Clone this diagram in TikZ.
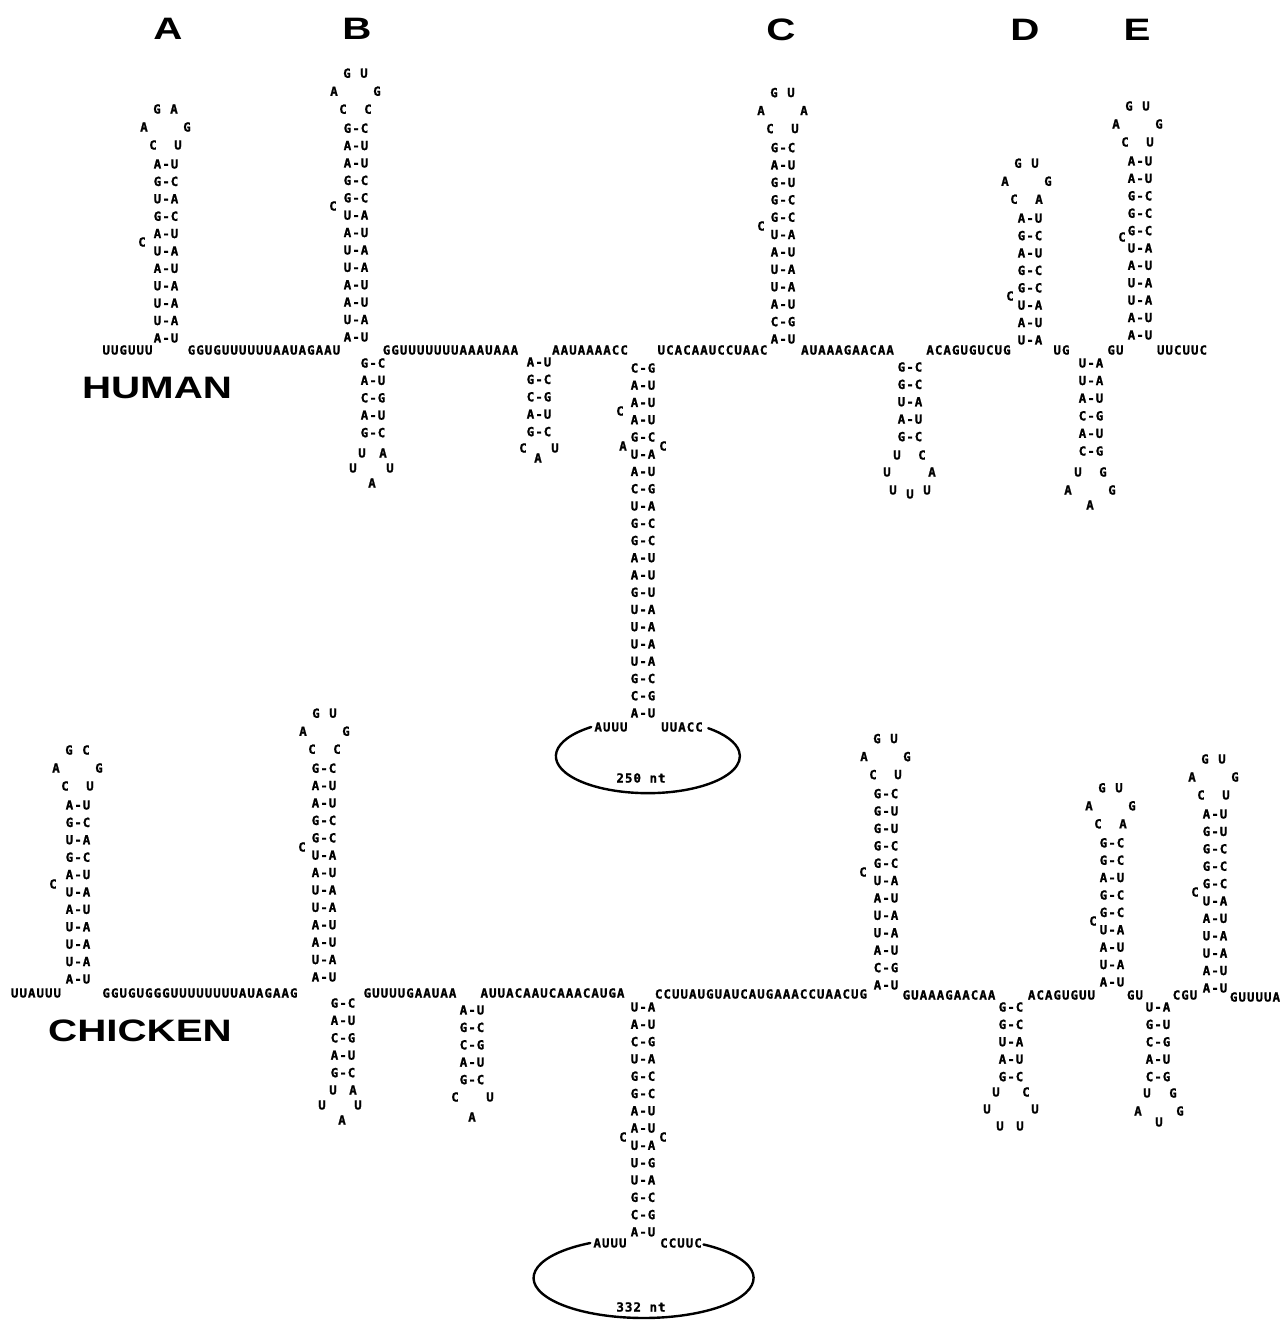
\documentclass[tikz,border=0pt]{standalone}
\usepackage{fontspec}
\newfontfamily\rnafont[LetterSpace=8,FakeBold=1.2]{DejaVu Sans Mono}
\newfontfamily\labfont[FakeStretch=1.3]{Liberation Sans}
\tikzset{
  nt/.style={font=\rnafont\bfseries\fontsize{12.5}{13}\selectfont, inner sep=0pt},
  big/.style={font=\labfont\bfseries\fontsize{31}{34}\selectfont, inner sep=0pt},
  tailloop/.style={line width=2.4pt, line cap=round},
}
% column of base pairs: name, x, y of top pair, row step, pairs from top to bottom
\newcommand\rnacol[5]{%
  \foreach \p [count=\i from 0] in {#5}{\node[nt] (#1-\i) at (#2,{#3+\i*#4}) {\p};}}
% six-nucleotide hairpin loop above a stem: name, x, y of top pair,
% then left row1, row2, row3, right row3, row2, row1
\newcommand\hairpin[9]{%
  \node[nt] (#1-1) at ({#2-13},{#3-19}) {#4};
  \node[nt] (#1-2) at ({#2-22},{#3-37}) {#5};
  \node[nt] (#1-3) at ({#2-9},{#3-55}) {#6};
  \node[nt] (#1-4) at ({#2+8},{#3-55}) {#7};
  \node[nt] (#1-5) at ({#2+21},{#3-37}) {#8};
  \node[nt] (#1-6) at ({#2+12},{#3-19}) {#9};}
\begin{document}
\begin{tikzpicture}[x=1pt,y=-1pt]
\useasboundingbox (0,0) rectangle (1284,1320);
\fill[white] (0,0) rectangle (1284,1320);

% domain letters
\node[big] (labA) at (168,29) {A};
\node[big] (labB) at (357,29) {B};
\node[big] (labC) at (781,30) {C};
\node[big] (labD) at (1025,30) {D};
\node[big] (labE) at (1137,30) {E};
\node[big] (human) at (157,388) {HUMAN};
\node[big] (chicken) at (140,1031) {CHICKEN};

% ================= human =================
% single-stranded backbone
\node[nt] (h1) at (127.5,350) {UUGUUU};
\node[nt] (h2) at (264,350) {GGUGUUUUUUAAUAGAAU};
\node[nt] (h3) at (450.5,350) {GGUUUUUUUAAAUAAA};
\node[nt] (h4) at (590,350) {AAUAAAACC};
\node[nt] (h5) at (712.5,350) {UCACAAUCCUAAC};
\node[nt] (h6) at (847.5,350) {AUAAAGAACAA};
\node[nt] (h7) at (968.5,350) {ACAGUGUCUG};
\node[nt] (h8) at (1061.5,350) {UG};
\node[nt] (h9) at (1115.5,350) {GU};
\node[nt] (h10) at (1182,350) {UUCUUC};

% stem A
\rnacol{hA}{166}{164}{17.4}{A-U,G-C,U-A,G-C,A-U,U-A,A-U,U-A,U-A,U-A,A-U}
\hairpin{hAl}{166}{164}{C}{A}{G}{A}{G}{U}
\node[nt] (hAb) at (142,242) {C};
% stem B
\rnacol{hB}{356}{128.2}{17.4}{G-C,A-U,A-U,G-C,G-C,U-A,A-U,U-A,U-A,A-U,A-U,U-A,A-U}
\hairpin{hBl}{356}{128.2}{C}{A}{G}{U}{G}{C}
\node[nt] (hBb) at (333,206) {C};
% hairpin below B
\rnacol{hBd}{373}{363}{17.4}{G-C,A-U,C-G,A-U,G-C}
\node[nt] (hBd-l1) at (362,453) {U};
\node[nt] (hBd-l2) at (353,468) {U};
\node[nt] (hBd-l3) at (372,483) {A};
\node[nt] (hBd-l4) at (390,468) {U};
\node[nt] (hBd-l5) at (383,453) {A};
% small hairpin
\rnacol{hS}{539}{362}{17.4}{A-U,G-C,C-G,A-U,G-C}
\node[nt] (hS-l1) at (523,448) {C};
\node[nt] (hS-l2) at (538,458) {A};
\node[nt] (hS-l3) at (555,448) {U};
% long central stem
\rnacol{hM}{643}{368}{17.25}{C-G,A-U,A-U,A-U,G-C,U-A,A-U,C-G,U-A,G-C,G-C,A-U,A-U,G-U,U-A,U-A,U-A,U-A,G-C,C-G,A-U}
\node[nt] (hMb) at (620,411) {C};
\node[nt] (hMi1) at (623,446) {A};
\node[nt] (hMi2) at (663,446) {C};
\node[nt] (hAUUU) at (611,727) {AUUU};
\node[nt] (hUUACC) at (682,727) {UUACC};
\draw[tailloop] ([xshift=-3pt]hAUUU.west) arc[start angle=232, end angle=-49, x radius=92, y radius=37];
\node[nt] (h250) at (641,778) {250 nt};
% stem C
\rnacol{hC}{783}{147.6}{17.4}{G-C,A-U,G-U,G-C,G-C,U-A,A-U,U-A,U-A,A-U,C-G,A-U}
\hairpin{hCl}{783}{147.6}{C}{A}{G}{U}{A}{U}
\node[nt] (hCb) at (761,226) {C};
% hairpin below C-D linker
\rnacol{hF}{910}{367}{17.4}{G-C,G-C,U-A,A-U,G-C}
\node[nt] (hF-l1) at (897,455) {U};
\node[nt] (hF-l2) at (887,472) {U};
\node[nt] (hF-l3) at (893,490) {U};
\node[nt] (hF-l4) at (910,494) {U};
\node[nt] (hF-l5) at (927,490) {U};
\node[nt] (hF-l6) at (932,472) {A};
\node[nt] (hF-l7) at (922,455) {C};
% stem D
\rnacol{hD}{1030}{218.2}{17.4}{A-U,G-C,A-U,G-C,G-C,U-A,A-U,U-A}
\hairpin{hDl}{1027}{218.2}{C}{A}{G}{U}{G}{A}
\node[nt] (hDb) at (1010,296) {C};
% hairpin between D and E
\rnacol{hG}{1091}{363}{17.6}{U-A,U-A,A-U,C-G,A-U,C-G}
\node[nt] (hG-l1) at (1078,472) {U};
\node[nt] (hG-l2) at (1068,490) {A};
\node[nt] (hG-l3) at (1090,505) {A};
\node[nt] (hG-l4) at (1112,490) {G};
\node[nt] (hG-l5) at (1103,472) {G};
% stem E
\rnacol{hE}{1140}{161}{17.4}{A-U,A-U,G-C,G-C,G-C,U-A,A-U,U-A,U-A,A-U,A-U}
\hairpin{hEl}{1138}{161}{C}{A}{G}{U}{G}{U}
\node[nt] (hEb) at (1122,237) {C};

% ================= chicken =================
\node[nt] (c1) at (36,993) {UUAUUU};
\node[nt] (c2) at (200,993) {GGUGUGGGUUUUUUUUAUAGAAG};
\node[nt] (c3) at (410,993) {GUUUUGAAUAA};
\node[nt] (c4) at (552.5,993) {AUUACAAUCAAACAUGA};
\node[nt] (c5) at (761,994) {CCUUAUGUAUCAUGAAACCUAACUG};
\node[nt] (c6) at (949,995) {GUAAAGAACAA};
\node[nt] (c7) at (1061.5,995) {ACAGUGUU};
\node[nt] (c8) at (1135,995) {GU};
\node[nt] (c9) at (1185,995) {CGU};
\node[nt] (c10) at (1255,997) {GUUUUA};

% stem A
\rnacol{cA}{78}{805}{17.4}{A-U,G-C,U-A,G-C,A-U,U-A,A-U,U-A,U-A,U-A,A-U}
\hairpin{cAl}{78}{805}{C}{A}{G}{C}{G}{U}
\node[nt] (cAb) at (53,884) {C};
% stem B
\rnacol{cB}{324}{768.2}{17.4}{G-C,A-U,A-U,G-C,G-C,U-A,A-U,U-A,U-A,A-U,A-U,U-A,A-U}
\hairpin{cBl}{325}{768.2}{C}{A}{G}{U}{G}{C}
\node[nt] (cBb) at (302,847) {C};
% hairpin below B
\rnacol{cBd}{343}{1003}{17.4}{G-C,A-U,C-G,A-U,G-C}
\node[nt] (cBd-l1) at (333,1090) {U};
\node[nt] (cBd-l2) at (322,1105) {U};
\node[nt] (cBd-l3) at (342,1120) {A};
\node[nt] (cBd-l4) at (358,1105) {U};
\node[nt] (cBd-l5) at (353,1090) {A};
% small hairpin
\rnacol{cS}{472}{1010}{17.4}{A-U,G-C,C-G,A-U,G-C}
\node[nt] (cS-l1) at (455,1097) {C};
\node[nt] (cS-l2) at (472,1117) {A};
\node[nt] (cS-l3) at (490,1097) {U};
% long central stem
\rnacol{cM}{643}{1007}{17.3}{U-A,A-U,C-G,U-A,G-C,G-C,A-U,A-U,U-A,U-G,U-A,G-C,C-G,A-U}
\node[nt] (cMi1) at (623,1137) {C};
\node[nt] (cMi2) at (663,1137) {C};
\node[nt] (cAUUU) at (610,1243) {AUUU};
\node[nt] (cCCUUC) at (681,1243) {CCUUC};
\draw[tailloop] ([xshift=-3pt]cAUUU.west) arc[start angle=241, end angle=-57, x radius=110, y radius=40];
\node[nt] (c332) at (641,1307) {332 nt};
% stem C
\rnacol{cC}{886}{793.6}{17.4}{G-C,G-U,G-U,G-C,G-C,U-A,A-U,U-A,U-A,A-U,C-G,A-U}
\hairpin{cCl}{886}{793.6}{C}{A}{G}{U}{G}{U}
\node[nt] (cCb) at (863,872) {C};
% hairpin below C-D linker
\rnacol{cF}{1011}{1007}{17.4}{G-C,G-C,U-A,A-U,G-C}
\node[nt] (cF-l1) at (996,1092) {U};
\node[nt] (cF-l2) at (987,1109) {U};
\node[nt] (cF-l3) at (1000,1126) {U};
\node[nt] (cF-l4) at (1020,1126) {U};
\node[nt] (cF-l5) at (1035,1109) {U};
\node[nt] (cF-l6) at (1026,1092) {C};
% stem D
\rnacol{cD}{1112}{842.8}{17.4}{G-C,G-C,A-U,G-C,G-C,U-A,A-U,U-A,A-U}
\hairpin{cDl}{1111}{842.8}{C}{A}{G}{U}{G}{A}
\node[nt] (cDb) at (1093,921) {C};
% hairpin between D and E
\rnacol{cG}{1158}{1007}{17.4}{U-A,G-U,C-G,A-U,C-G}
\node[nt] (cG-l1) at (1147,1093) {U};
\node[nt] (cG-l2) at (1138,1111) {A};
\node[nt] (cG-l3) at (1159,1122) {U};
\node[nt] (cG-l4) at (1180,1111) {G};
\node[nt] (cG-l5) at (1173,1093) {G};
% stem E
\rnacol{cE}{1215}{814}{17.4}{A-U,G-U,G-C,G-C,G-C,U-A,A-U,U-A,U-A,A-U,A-U}
\hairpin{cEl}{1214}{814}{C}{A}{G}{U}{G}{U}
\node[nt] (cEb) at (1195,892) {C};
\end{tikzpicture}
\end{document}
